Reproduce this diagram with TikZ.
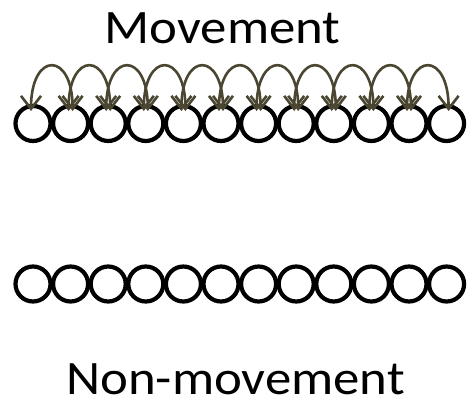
\documentclass[tikz,border=0pt]{standalone}
\usepackage{fontspec}
\setmainfont{Carlito}
\usetikzlibrary{arrows.meta}
\definecolor{arrowc}{HTML}{4B4632}
\tikzset{
  ring/.style={circle, draw=black, line width=4.2pt, minimum size=35pt, inner sep=0pt},
  hop/.style={draw=arrowc, line width=2.6pt, {Straight Barb[length=13pt,width=20pt]}-{Straight Barb[length=13pt,width=20pt]}},
  lbl/.style={font=\fontsize{48}{50}\selectfont, anchor=base, inner sep=0pt}
}
\begin{document}
\begin{tikzpicture}[x=1pt,y=-1pt]
\useasboundingbox (0,0) rectangle (469,402);
\node[lbl] (mv) at (222.5,43) {\scalebox{1.1}[1]{Movement}};
\node[lbl] (nmv) at (235.5,394.5) {\scalebox{1.1}[1]{Non-movement}};
\foreach \i in {0,...,11}{
  \node[ring] (t\i) at ({33+37.6*\i},123.5) {};
  \node[ring] (b\i) at ({33+37.6*\i},284) {};
  \coordinate (tl\i) at ({31+37.6*\i},111);
  \coordinate (tr\i) at ({35+37.6*\i},111);
}
\foreach \i [evaluate=\i as \j using int(\i+1)] in {0,...,10}{
  \draw[hop] (tl\i) .. controls +(0,-60) and +(0,-60) .. (tr\j);
}
\end{tikzpicture}
\end{document}
